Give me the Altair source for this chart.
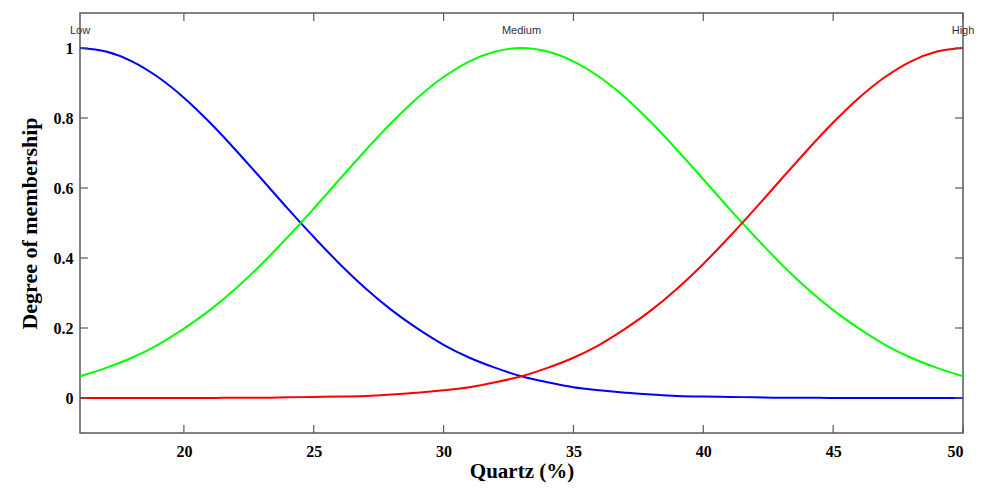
import altair as alt
import pandas as pd

# ---- data ----
quartz = list(range(16, 51))
low = [1.000, 0.990, 0.962, 0.917, 0.858, 0.787, 0.708, 0.625, 0.541, 0.460,
       0.383, 0.313, 0.251, 0.198, 0.152, 0.115, 0.086, 0.062, 0.045, 0.031,
       0.022, 0.015, 0.010, 0.006, 0.004, 0.003, 0.002, 0.001, 0.001, 0.000,
       0.000, 0.000, 0.000, 0.000, 0.000]
medium = [0.062, 0.086, 0.115, 0.152, 0.198, 0.251, 0.313, 0.383, 0.460, 0.541,
          0.625, 0.708, 0.787, 0.858, 0.917, 0.962, 0.990, 1.000, 0.990, 0.962,
          0.917, 0.858, 0.787, 0.708, 0.625, 0.541, 0.460, 0.383, 0.313, 0.251,
          0.198, 0.152, 0.115, 0.086, 0.062]
high = [0.000, 0.000, 0.000, 0.000, 0.000, 0.000, 0.001, 0.001, 0.002, 0.003,
        0.004, 0.006, 0.010, 0.015, 0.022, 0.031, 0.045, 0.062, 0.086, 0.115,
        0.152, 0.198, 0.251, 0.313, 0.383, 0.460, 0.541, 0.625, 0.708, 0.787,
        0.858, 0.917, 0.962, 0.990, 1.000]
series_names = ["Low", "Medium", "High"]
series_colors = ["#0000FF", "#00FF00", "#FF0000"]
label_x = [16, 33, 50]
label_y = [1.05, 1.05, 1.05]
x_ticks = [20, 25, 30, 35, 40, 45, 50]
y_ticks = [0, 0.2, 0.4, 0.6, 0.8, 1.0]

rows = []
for name, vals in zip(series_names, [low, medium, high]):
    for xv, yv in zip(quartz, vals):
        rows.append({"x": xv, "y": yv, "s": name})
df = pd.DataFrame(rows)

W, H = 883, 420
FRAME = "#5a5a5a"
xs = alt.Scale(domain=[16, 50], nice=False, zero=False)
ys = alt.Scale(domain=[-0.1, 1.1], nice=False, zero=False)

lines = alt.Chart(df).mark_line(strokeWidth=2, interpolate="monotone").encode(
    x=alt.X("x:Q", scale=xs, title="Quartz (%)",
            axis=alt.Axis(values=x_ticks, ticks=False, domain=False, grid=False,
                          labelFont="Liberation Serif", labelFontWeight="bold",
                          labelFontSize=16, labelColor="black", labelPadding=10,
                          titleFont="Liberation Serif", titleFontWeight="bold",
                          titleFontSize=21, titleColor="black", titlePadding=1)),
    y=alt.Y("y:Q", scale=ys, title="Degree of membership",
            axis=alt.Axis(values=y_ticks, format="~g", ticks=False, domain=False, grid=False,
                          labelFont="Liberation Serif", labelFontWeight="bold",
                          labelFontSize=16, labelColor="black", labelPadding=7,
                          titleFont="Liberation Serif", titleFontWeight="bold",
                          titleFontSize=22, titleColor="black", titlePadding=12)),
    color=alt.Color("s:N", scale=alt.Scale(domain=series_names, range=series_colors), legend=None),
    detail="s:N",
)

tick_x = pd.DataFrame({"t": x_ticks})
tick_y = pd.DataFrame({"t": y_ticks})

xb = alt.Chart(tick_x).mark_rule(color=FRAME, strokeWidth=1.2).encode(
    x=alt.X("t:Q", scale=xs), y=alt.value(H), y2=alt.value(H - 8))
xt = alt.Chart(tick_x).mark_rule(color=FRAME, strokeWidth=1.2).encode(
    x=alt.X("t:Q", scale=xs), y=alt.value(0), y2=alt.value(8))
yl = alt.Chart(tick_y).mark_rule(color=FRAME, strokeWidth=1.2).encode(
    y=alt.Y("t:Q", scale=ys), x=alt.value(0), x2=alt.value(8))
yr = alt.Chart(tick_y).mark_rule(color=FRAME, strokeWidth=1.2).encode(
    y=alt.Y("t:Q", scale=ys), x=alt.value(W), x2=alt.value(W - 8))

lab_df = pd.DataFrame({"x": label_x, "y": label_y, "name": series_names})
labels = alt.Chart(lab_df).mark_text(font="Liberation Sans", fontSize=11, color="#332d44",
                                     align="center", baseline="middle").encode(
    x=alt.X("x:Q", scale=xs), y=alt.Y("y:Q", scale=ys), text="name:N")

chart = alt.layer(lines, xb, xt, yl, yr, labels).properties(
    width=W, height=H,
    autosize=alt.AutoSizeParams(type="none"),
    padding={"left": 72, "top": 5, "right": 12, "bottom": 50},
).configure_view(stroke=FRAME, strokeWidth=1.5)

chart.save("out.html", embed_options={"renderer": "svg", "actions": False})
